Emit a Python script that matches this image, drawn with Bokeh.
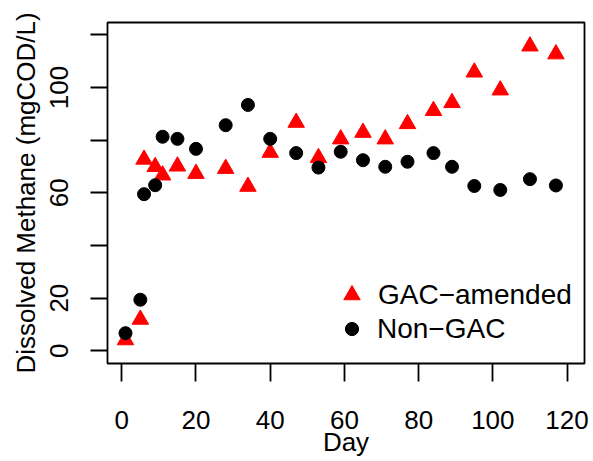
from bokeh.plotting import figure
from bokeh.models import Range1d, FixedTicker, Legend, LegendItem
from bokeh.embed import file_html
from bokeh.resources import INLINE

# Data
days = [1, 5, 6, 9, 11, 15, 20, 28, 34, 40, 47, 53, 59, 65, 71, 77, 84, 89, 95, 102, 110, 117]
gac_amended = [4.1, 11.9, 72.7, 69.9, 66.7, 70.1, 67.3, 69.2, 62.4, 75.3, 86.7,
               73.3, 80.4, 82.9, 80.4, 86.2, 91.2, 94.2, 105.8, 99.0, 115.7, 112.7]
non_gac = [6.7, 19.4, 59.5, 62.9, 81.3, 80.5, 76.7, 85.7, 93.4, 80.5, 75.1,
           69.6, 75.6, 72.4, 69.9, 71.8, 75.1, 69.9, 62.6, 61.1, 65.2, 62.8]
x_ticks = [0, 20, 40, 60, 80, 100, 120]
y_ticks = [0, 20, 40, 60, 80, 100, 120]
y_tick_labels = {0: "0", 20: "20", 40: "", 60: "60", 80: "", 100: "100", 120: ""}
series_names = ["GAC\u2212amended", "Non\u2212GAC"]
x_title = "Day"
y_title = "Dissolved Methane (mgCOD/L)"

FONT = "Liberation Sans"

p = figure(width=593, height=461, output_backend="svg", toolbar_location=None,
           x_range=Range1d(-3.85, 124.7), y_range=Range1d(-4.82, 124.7),
           min_border_left=107, min_border_right=9, min_border_top=22, min_border_bottom=98)
p.background_fill_color = "white"
p.border_fill_color = "white"
p.outline_line_color = "black"
p.outline_line_width = 1.8
p.xgrid.visible = False
p.ygrid.visible = False

r_gac = p.scatter(days, gac_amended, marker="triangle", size=16.5, color="#FF0000", line_color="#FF0000")
r_non = p.scatter(days, non_gac, marker="circle", size=13, color="black", line_color="black")

for ax in (p.xaxis[0], p.yaxis[0]):
    ax.axis_line_color = None
    ax.major_tick_line_width = 1.8
    ax.major_tick_line_color = "black"
    ax.major_tick_in = 0
    ax.minor_tick_line_color = None
    ax.major_label_text_font = FONT
    ax.major_label_text_font_size = "26px"
    ax.major_label_text_color = "black"
    ax.axis_label_text_font = FONT
    ax.axis_label_text_font_size = "26px"
    ax.axis_label_text_font_style = "normal"
    ax.axis_label_text_color = "black"

p.xaxis[0].ticker = FixedTicker(ticks=x_ticks)
p.xaxis[0].major_tick_out = 18
p.xaxis[0].major_label_standoff = 29
p.xaxis[0].axis_label = x_title
p.xaxis[0].axis_label_standoff = -5

p.yaxis[0].ticker = FixedTicker(ticks=y_ticks)
p.yaxis[0].major_label_overrides = y_tick_labels
p.yaxis[0].major_tick_out = 17
p.yaxis[0].major_label_orientation = "vertical"
p.yaxis[0].major_label_standoff = 22
p.yaxis[0].axis_label = y_title
p.yaxis[0].axis_label_standoff = 7

leg1 = Legend(items=[LegendItem(label=series_names[0], renderers=[r_gac])],
              location=(224, 48), glyph_width=41, glyph_height=41, label_standoff=6,
              padding=0, margin=0, spacing=0,
              border_line_color=None, background_fill_alpha=0,
              label_text_font=FONT, label_text_font_size="28px", label_text_color="black")
leg2 = Legend(items=[LegendItem(label=series_names[1], renderers=[r_non])],
              location=(228, 18), glyph_width=33, glyph_height=33, label_standoff=9,
              padding=0, margin=0, spacing=0,
              border_line_color=None, background_fill_alpha=0,
              label_text_font=FONT, label_text_font_size="28px", label_text_color="black")
p.add_layout(leg1, "center")
p.add_layout(leg2, "center")

open("out.html", "w").write(file_html(p, INLINE))
